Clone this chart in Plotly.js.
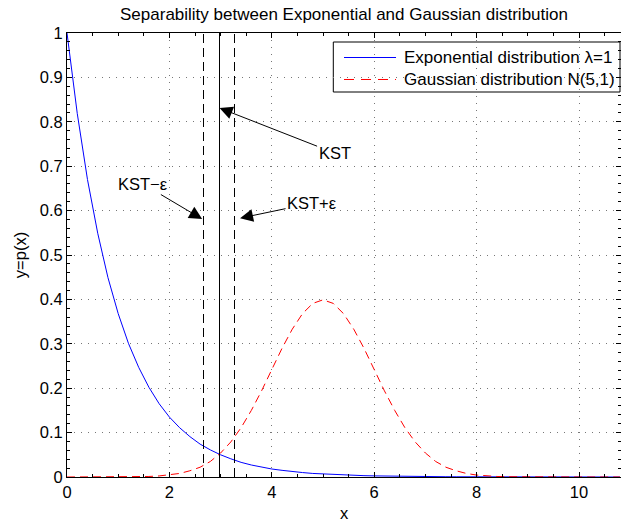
<!DOCTYPE html>
<html>
<head>
<meta charset="utf-8">
<script src="https://cdn.plot.ly/plotly-3.0.1.min.js"></script>
<style>
html,body{margin:0;padding:0;background:#fff;}
#chart{width:621px;height:524px;}
#chart .scatterlayer .trace:nth-child(n+3):nth-child(-n+5) .js-line{shape-rendering:crispEdges;}
</style>
</head>
<body>
<div id="chart"></div>
<script>
// sample positions (x)
const xs = [0,0.2,0.4,0.6,0.8,1.0,1.2,1.4,1.6,1.8,2.0,2.2,2.4,2.6,2.8,3.0,3.2,3.4,3.6,3.8,4.0,4.2,4.4,4.6,4.8,5.0,5.2,5.4,5.6,5.8,6.0,6.2,6.4,6.6,6.8,7.0,7.2,7.4,7.6,7.8,8.0,8.2,8.4,8.6,8.8,9.0,9.2,9.4,9.6,9.8,10.0,10.2,10.4,10.6,10.8];
// exponential pdf, lambda = 1
const expVals = [1.000,0.819,0.670,0.549,0.449,0.368,0.301,0.247,0.202,0.165,0.135,0.111,0.091,0.074,0.061,0.050,0.041,0.033,0.027,0.022,0.018,0.015,0.012,0.010,0.008,0.0067,0.0055,0.0045,0.0037,0.0030,0.0025,0.0020,0.0017,0.0014,0.0011,0.0009,0.0007,0.0006,0.0005,0.0004,0.0003,0.0003,0.0002,0.0002,0.0002,0.0001,0.0001,0.0001,0.0001,0.0001,0.0000,0.0000,0.0000,0.0000,0.0000];
// gaussian pdf N(5,1)
const gaussVals = [0,0,0,0,0,0.0001,0.0003,0.0006,0.0012,0.0024,0.0044,0.008,0.014,0.022,0.035,0.054,0.079,0.111,0.150,0.194,0.242,0.290,0.333,0.368,0.391,0.399,0.391,0.368,0.333,0.290,0.242,0.194,0.150,0.111,0.079,0.054,0.035,0.022,0.014,0.008,0.0044,0.0024,0.0012,0.0006,0.0003,0.0001,0,0,0,0,0,0,0,0,0];
// threshold lines
const kst = 2.97;
const eps = 0.3;
const lineY = [0, 1];
const seriesNames = ['Exponential distribution \u03bb=1', 'Gaussian distribution N(5,1)'];
const annoLabels = ['KST', 'KST+\u03b5', 'KST\u2212\u03b5'];
const annoHeads = [[2.98, 0.831], [3.38, 0.583], [2.64, 0.581]];
const xTicks = [0, 2, 4, 6, 8, 10];
const yTicks = [0, 0.1, 0.2, 0.3, 0.4, 0.5, 0.6, 0.7, 0.8, 0.9, 1];

const font = 'Liberation Sans, Arial, Helvetica, sans-serif';
const xMax = 10.82;
const seriesColors = ['rgb(0,0,255)', 'rgb(255,0,0)'];

// manual legend (MATLAB style box), in fractions of the plot area
const legBox = {x0: 0.4807, x1: 0.9982, y0: 0.8671, y1: 0.9797};
const legRows = [0.9448, 0.8953];
const legLineX = [0.5, 0.5939];
const legTextX = 0.6047;

const traces = [
  {x: xs, y: expVals, type: 'scatter', mode: 'lines', name: seriesNames[0], showlegend: false,
   line: {color: seriesColors[0], width: 1}},
  {x: xs, y: gaussVals, type: 'scatter', mode: 'lines', name: seriesNames[1], showlegend: false,
   line: {color: seriesColors[1], width: 1, dash: '8px,5px'}},
  {x: [kst, kst], y: lineY, type: 'scatter', mode: 'lines', showlegend: false,
   line: {color: '#000', width: 1}},
  {x: [kst - eps, kst - eps], y: lineY, type: 'scatter', mode: 'lines', showlegend: false,
   line: {color: '#000', width: 1, dash: '9px,5px'}},
  {x: [kst + eps, kst + eps], y: lineY, type: 'scatter', mode: 'lines', showlegend: false,
   line: {color: '#000', width: 1, dash: '9px,5px'}},
  // legend sample lines
  {x: [legLineX[0] * xMax, legLineX[1] * xMax], y: [legRows[0], legRows[0]], type: 'scatter', mode: 'lines',
   showlegend: false, hoverinfo: 'skip', line: {color: seriesColors[0], width: 1}},
  {x: [legLineX[0] * xMax, legLineX[1] * xMax], y: [legRows[1], legRows[1]], type: 'scatter', mode: 'lines',
   showlegend: false, hoverinfo: 'skip', line: {color: seriesColors[1], width: 1, dash: '10px,7px'}}
];

const offsets = [[115, 45], [72, -15], [-59, -35]];
const annotations = annoLabels.map((t, i) => ({
  x: annoHeads[i][0], y: annoHeads[i][1], xref: 'x', yref: 'y',
  text: t, showarrow: true, arrowhead: 2, arrowsize: 2.6, arrowwidth: 1,
  arrowcolor: '#000', ax: offsets[i][0], ay: offsets[i][1], standoff: 0,
  font: {family: font, size: 16.5, color: '#000'}
}));
seriesNames.forEach((n, i) => {
  annotations.push({xref: 'paper', yref: 'paper', x: legTextX, y: legRows[i], xanchor: 'left', yanchor: 'middle',
    text: n, showarrow: false, font: {family: font, size: 17, color: '#000'}});
});

const shapes = [
  {type: 'rect', xref: 'paper', yref: 'paper', x0: legBox.x0, x1: legBox.x1, y0: legBox.y0, y1: legBox.y1,
   line: {color: '#000', width: 1}, fillcolor: '#fff', layer: 'between'}
];

const axisCommon = {
  showline: true, linecolor: '#000', linewidth: 1, mirror: 'ticks',
  ticks: 'inside', ticklen: 5, tickcolor: '#000', zeroline: false,
  showgrid: true, gridcolor: '#777', griddash: '1px,6px', gridwidth: 1,
  tickfont: {family: font, size: 16.5, color: '#000'}
};

const layout = {
  width: 621, height: 524,
  margin: {l: 67, r: 0, t: 33, b: 47},
  paper_bgcolor: '#fff', plot_bgcolor: '#fff',
  title: {text: 'Separability between Exponential and Gaussian distribution',
          font: {family: font, size: 17, color: '#000'}, x: 0.5, xanchor: 'center', y: 0.973, yanchor: 'middle', xref: 'paper'},
  xaxis: Object.assign({}, axisCommon, {
    range: [0, xMax], tickvals: xTicks, ticktext: xTicks.map(String),
    minor: {dtick: 0.5, ticks: 'inside', ticklen: 3, tickcolor: '#000', showgrid: false},
    title: {text: 'x', font: {family: font, size: 16.5, color: '#000'}, standoff: 7}
  }),
  yaxis: Object.assign({}, axisCommon, {
    range: [0, 1], tickvals: yTicks, ticktext: yTicks.map(String),
    minor: {dtick: 0.02, ticks: 'inside', ticklen: 3, tickcolor: '#000', showgrid: false},
    title: {text: 'y=p(x)', font: {family: font, size: 16.5, color: '#000'}, standoff: 8}
  }),
  shapes: shapes,
  annotations: annotations,
  showlegend: false
};

Plotly.newPlot('chart', traces, layout, {displayModeBar: false, staticPlot: true});
</script>
</body>
</html>
